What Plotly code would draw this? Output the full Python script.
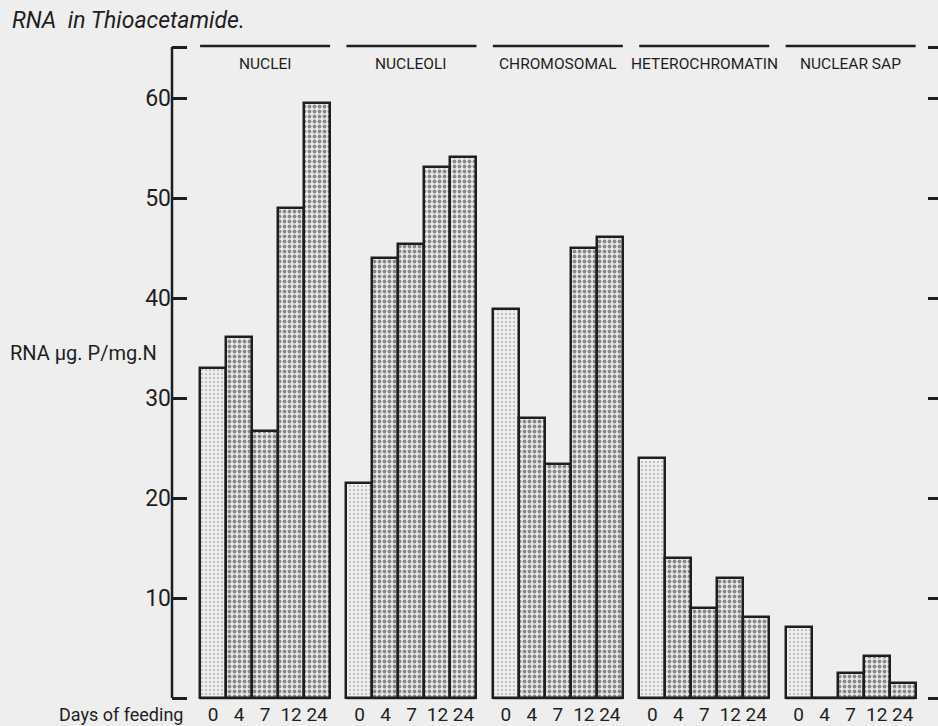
import plotly.graph_objects as go

# ---- data ----
groups = ["NUCLEI", "NUCLEOLI", "CHROMOSOMAL", "HETEROCHROMATIN", "NUCLEAR SAP"]
days = ["0", "4", "7", "12", "24"]
nuclei = [33.0, 36.1, 26.7, 49.0, 59.5]
nucleoli = [21.5, 44.0, 45.4, 53.1, 54.1]
chromosomal = [38.9, 28.0, 23.4, 45.0, 46.1]
heterochromatin = [24.0, 14.0, 9.0, 12.0, 8.1]
nuclear_sap = [7.1, 0.0, 2.5, 4.2, 1.5]
y_ticks = [0, 10, 20, 30, 40, 50, 60]

series = [nuclei, nucleoli, chromosomal, heterochromatin, nuclear_sap]

# ---- style ----
BG = "#eeeeee"
INK = "#1e1e1e"
FONT = "Roboto, sans-serif"
PERIOD = 5.63  # group spacing in bar-width units
BRACKET = 65.1  # top bracket of the axis
YRANGE = [-0.3, 65.4]

fig = go.Figure()

xs_all, labels_all = [], []
for g, (name, vals) in enumerate(zip(groups, series)):
    xs = [g * PERIOD + i for i in range(len(days))]
    xs_all += xs
    labels_all += days
    # group baseline
    fig.add_shape(type="line", xref="x", yref="y",
                  x0=xs[0] - 0.5, x1=xs[-1] + 0.5, y0=0, y1=0,
                  line=dict(color=INK, width=2.5), layer="below")
    # day 0 : fine stipple ; later days : dense mottled texture
    fig.add_trace(go.Bar(
        x=xs[:1], y=vals[:1], width=1.0,
        marker=dict(color="#ebebeb",
                    line=dict(color=INK, width=2.5),
                    pattern=dict(shape=".", size=4, solidity=0.18,
                                 fgcolor="#777777", bgcolor="#ededed",
                                 fillmode="overlay")),
        showlegend=False, hoverinfo="skip"))
    fig.add_trace(go.Bar(
        x=xs[1:], y=vals[1:], width=1.0,
        marker=dict(color="#d8d8d8",
                    line=dict(color=INK, width=2.5),
                    pattern=dict(shape=".", size=5, solidity=0.45,
                                 fgcolor="#2a2a2a", bgcolor="#e8e8e8",
                                 fillmode="overlay")),
        showlegend=False, hoverinfo="skip"))
    # header line + label
    fig.add_shape(type="line", xref="x", yref="y",
                  x0=xs[0] - 0.5, x1=xs[-1] + 0.5, y0=BRACKET + 0.1, y1=BRACKET + 0.1,
                  line=dict(color=INK, width=2.5))
    fig.add_annotation(x=(xs[0] + xs[-1]) / 2, xref="x", y=63.4, yref="y",
                       text=name, showarrow=False, yanchor="middle",
                       font=dict(family=FONT, size=15.5, color=INK))

# invisible trace for the right-hand tick axis
fig.add_trace(go.Scatter(x=[xs_all[0]], y=[0], yaxis="y2", mode="markers",
                         marker=dict(opacity=0), showlegend=False, hoverinfo="skip"))

left_vals = y_ticks + [BRACKET]
left_text = [""] + [str(v) for v in y_ticks[1:]] + [""]

fig.update_layout(
    width=938, height=726,
    margin=dict(l=172, r=0, t=44, b=23),
    paper_bgcolor=BG, plot_bgcolor=BG,
    bargap=0,
    xaxis=dict(range=[-1.58, 27.88], tickmode="array", tickvals=xs_all,
               ticktext=labels_all, ticks="", showgrid=False, zeroline=False,
               showline=False, tickfont=dict(family=FONT, size=19, color=INK),
               fixedrange=True),
    yaxis=dict(range=YRANGE, tickmode="array", tickvals=left_vals,
               ticktext=left_text, ticks="inside", ticklen=15, tickwidth=2.5,
               tickcolor=INK, showline=False, showgrid=False, zeroline=False,
               tickfont=dict(family=FONT, size=23, color=INK)),
    yaxis2=dict(range=YRANGE, overlaying="y", side="right", anchor="free",
                position=1.0, tickmode="array", tickvals=left_vals,
                showticklabels=False, ticks="inside", ticklen=10, tickwidth=2.5,
                tickcolor=INK, showline=False, showgrid=False, zeroline=False),
)

# left axis spine between the two brackets
fig.add_shape(type="line", xref="paper", yref="y", x0=0, x1=0,
              y0=0, y1=BRACKET, line=dict(color=INK, width=2.5))

fig.add_annotation(x=-0.212, xref="paper", y=1.0364, yref="paper",
                   text="RNA  in Thioacetamide.", showarrow=False,
                   xanchor="left", yanchor="middle",
                   font=dict(family=FONT, size=23, color=INK, style="italic"))
fig.add_annotation(x=-0.214, xref="paper", y=0.53, yref="paper",
                   text="RNA µg. P/mg.N", showarrow=False,
                   xanchor="left", yanchor="middle",
                   font=dict(family=FONT, size=20, color=INK))
fig.add_annotation(x=-0.150, xref="paper", y=-0.02, yref="paper",
                   text="Days of feeding", showarrow=False,
                   xanchor="left", yanchor="middle",
                   font=dict(family=FONT, size=18, color=INK))

fig.write_html("out.html")
